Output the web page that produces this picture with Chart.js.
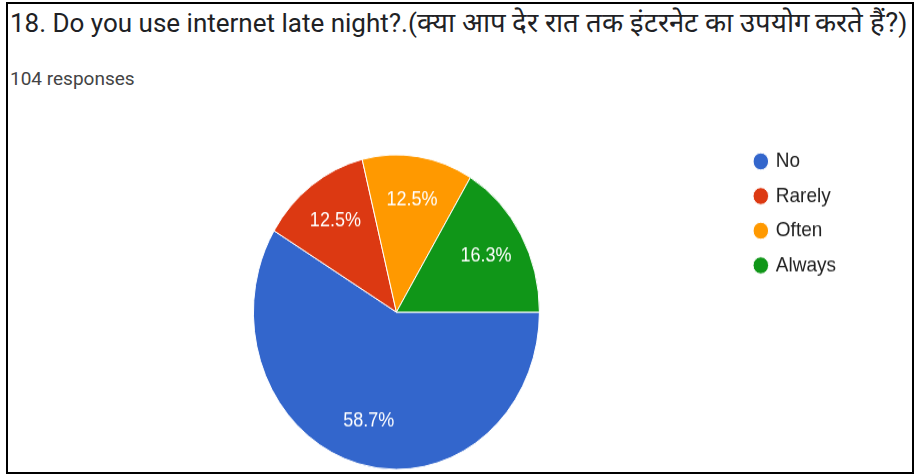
<!DOCTYPE html>
<html>
<head>
<meta charset="utf-8">
<title>Late night internet use</title>
<script src="https://cdn.jsdelivr.net/npm/chart.js@4.4.0/dist/chart.umd.min.js"></script>
<style>
  html, body { margin: 0; padding: 0; background: #fff; }
  body { width: 916px; height: 475px; position: relative; overflow: hidden; }
  .frame {
    position: absolute; left: 6px; top: 2px; width: 908px; height: 472px;
    box-sizing: border-box; border: 2px solid #000;
  }
  .question {
    position: absolute; left: 10px; top: 9px; white-space: nowrap;
    font: 26px/28px Roboto, "Liberation Sans", Arial, sans-serif; color: #202124;
  }
  .question .hi { font-size: 27.5px; }
  .count {
    position: absolute; left: 10px; top: 68px; white-space: nowrap;
    font: 19px/22px Roboto, "Liberation Sans", Arial, sans-serif; color: #444444;
  }
  #pie {
    position: absolute; left: 0; top: 0;
    transform: scaleY(1.1); transform-origin: 0 311px;
  }
</style>
</head>
<body>
<div class="frame"></div>
<div class="question">18. Do you use internet late night?.(<span class="hi">क्या आप देर रात तक इंटरनेट का उपयोग करते हैं?</span>)</div>
<div class="count">104 responses</div>
<canvas id="pie" width="916" height="475"></canvas>
<script>
// answers and how many people picked each (104 total)
const answers = ['No', 'Rarely', 'Often', 'Always'];
const responses = [61, 13, 13, 17];
const sliceColors = ['#3366cc', '#dc3912', '#ff9900', '#109618'];

const total = responses.reduce((a, b) => a + b, 0);
const percentText = responses.map(v => (v / total * 100).toFixed(1) + '%');

// white percentage text inside each slice
const sliceLabels = {
  id: 'sliceLabels',
  afterDatasetsDraw(chart) {
    const ctx = chart.ctx;
    const meta = chart.getDatasetMeta(0);
    ctx.save();
    ctx.font = '18px "Liberation Sans", Arial, sans-serif';
    ctx.fillStyle = '#ffffff';
    ctx.textAlign = 'center';
    ctx.textBaseline = 'middle';
    meta.data.forEach((arc, i) => {
      const p = arc.getProps(['x', 'y', 'startAngle', 'endAngle', 'outerRadius'], true);
      const mid = (p.startAngle + p.endAngle) / 2;
      const r = p.outerRadius * 0.72;
      ctx.fillText(percentText[i], p.x + Math.cos(mid) * r, p.y + Math.sin(mid) * r);
    });
    ctx.restore();
  }
};

new Chart(document.getElementById('pie'), {
  type: 'pie',
  data: {
    labels: answers,
    datasets: [{
      data: responses,
      backgroundColor: sliceColors,
      borderColor: '#ffffff',
      borderWidth: 1,
      radius: 143
    }]
  },
  options: {
    responsive: false,
    animation: false,
    rotation: 90,
    layout: { padding: { left: 50, right: 70, top: 153, bottom: 4 } },
    plugins: {
      tooltip: { enabled: false },
      legend: {
        position: 'right',
        align: 'start',
        labels: {
          usePointStyle: true,
          pointStyle: 'circle',
          boxWidth: 11,
          boxHeight: 11,
          padding: 12.5,
          color: '#222222',
          font: { family: '"Liberation Sans", Arial, sans-serif', size: 19 }
        }
      }
    }
  },
  plugins: [sliceLabels]
});
</script>
</body>
</html>
